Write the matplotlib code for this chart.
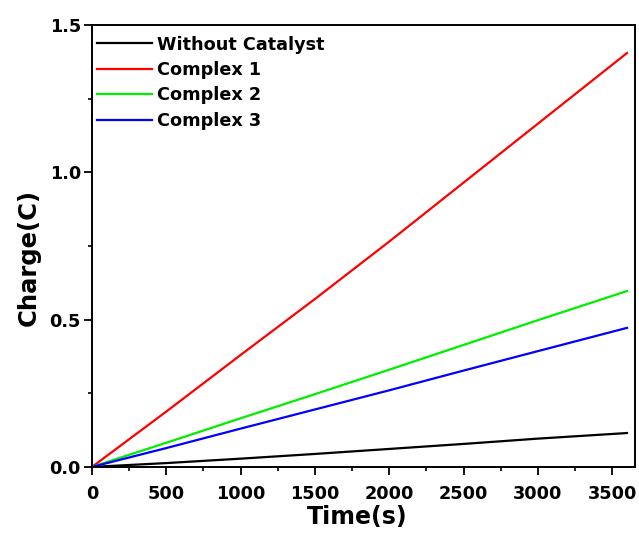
import matplotlib
matplotlib.use("Agg")
import matplotlib.pyplot as plt
from matplotlib.ticker import MultipleLocator

plt.rcParams['font.family'] = ['DejaVu Sans']
plt.rcParams['font.weight'] = 'bold'

time_s = [0, 500, 1000, 1500, 2000, 2500, 3000, 3600]
without_catalyst = [0, 0.013, 0.028, 0.044, 0.061, 0.078, 0.096, 0.115]
complex1 = [0, 0.188, 0.38, 0.57, 0.765, 0.965, 1.165, 1.405]
complex2 = [0, 0.082, 0.165, 0.247, 0.33, 0.414, 0.498, 0.597]
complex3 = [0, 0.064, 0.13, 0.195, 0.26, 0.327, 0.393, 0.472]

labels = ["Without Catalyst", "Complex 1", "Complex 2", "Complex 3"]
colors = ["black", "#ff0000", "#00ee00", "#0000ff"]

fig = plt.figure(figsize=(6.39, 5.33), dpi=100)
ax = fig.add_axes([0.144, 0.124, 0.85, 0.829])

for y, lab, c in zip([without_catalyst, complex1, complex2, complex3], labels, colors):
    ax.plot(time_s, y, color=c, lw=1.6, label=lab)

ax.set_xlim(0, 3655)
ax.set_ylim(0, 1.5)
ax.xaxis.set_major_locator(MultipleLocator(500))
ax.xaxis.set_minor_locator(MultipleLocator(250))
ax.yaxis.set_major_locator(MultipleLocator(0.5))
ax.yaxis.set_minor_locator(MultipleLocator(0.25))
ax.tick_params(which='major', direction='out', length=6, width=1.3, labelsize=12.7)
ax.tick_params(which='minor', direction='out', length=3, width=1.2)
ax.tick_params(axis='x', pad=7)
ax.tick_params(axis='y', pad=2)
for s in ax.spines.values():
    s.set_linewidth(1.4)

ax.set_xlabel("Time(s)", fontsize=17, fontweight='bold')
ax.set_ylabel("Charge(C)", fontsize=17.5, fontweight='bold')
ax.xaxis.set_label_coords(0.488, -0.086)
ax.yaxis.set_label_coords(-0.095, 0.475)

ax.legend(loc='upper left', frameon=False, fontsize=12.7, handlelength=3.1,
          handletextpad=0.3, labelspacing=0.42, borderaxespad=0, borderpad=0.3,
          bbox_to_anchor=(0.0, 0.988))

fig.savefig("out.png", dpi=100)
